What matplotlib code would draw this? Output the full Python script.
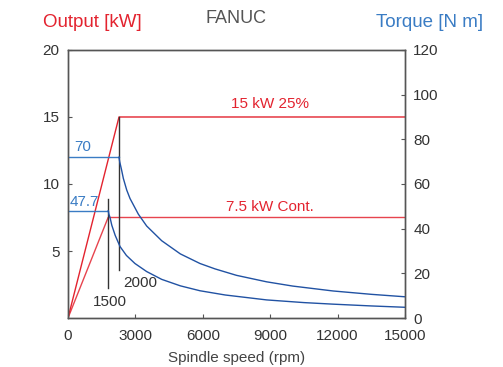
import numpy as np
import matplotlib.pyplot as plt

plt.rcParams['font.family'] = ['Liberation Sans', 'DejaVu Sans']

RED = "#e3232f"
BLUE = "#3a7cc4"
DBLUE = "#2152a3"
GREY = "#333333"

# power curves (kW) vs spindle speed (rpm)
spd_p25 = [0, 2270, 15000]
pow_p25 = [0, 15.0, 15.0]
spd_pc = [0, 1785, 15000]
pow_pc = [0, 7.5, 7.5]

# torque curves (N m)
spd_t25 = [0, 2270, 2300, 2380, 2463, 2613, 2760, 3130, 3500, 4170, 5000,
           5875, 6540, 7500, 8840, 10000, 11800, 13500, 15000]
trq_t25 = [72, 72, 70, 66.5, 62.5, 57.3, 53.5, 46.5, 41.2, 34.6, 28.7,
           24.4, 22.0, 19.1, 16.2, 14.3, 12.1, 10.6, 9.5]
spd_tc = [0, 1790, 1820, 1870, 1950, 2100, 2315, 2600, 2980, 3500, 4170,
          5000, 5875, 7000, 8840, 10500, 11800, 13500, 15000]
trq_tc = [48, 48, 46.5, 45, 41.5, 37, 32, 28, 24.4, 20.8, 17.3,
          14.4, 12.2, 10.3, 8.1, 6.9, 6.2, 5.4, 4.8]

# base-speed markers: (rpm, power from, power to)
markers = [(2270, 15.0, 3.6), (1780, 8.9, 2.25)]

fig = plt.figure(figsize=(5.03, 3.67), dpi=100)
ax = fig.add_axes([0.1352, 0.1335, 0.6700, 0.7303])
ax2 = ax.twinx()

ax.plot(spd_p25, pow_p25, color=RED, lw=1.0)
ax.plot(spd_pc, pow_pc, color=RED, lw=1.0, alpha=0.85)
for x, y0, y1 in markers:
    ax.plot([x, x], [y0, y1], color=GREY, lw=1.0)
ax.text(2270 + 180, 2.6, "2000", fontsize=11, color=GREY, va='center')
ax.text(1780 + 100, 1.2, "1500", fontsize=11, color=GREY, va='center', ha='center')
ax.text(9000, 16.0, "15 kW 25%", fontsize=11, color=RED, ha='center', va='center')
ax.text(9000, 8.3, "7.5 kW Cont.", fontsize=11, color=RED, ha='center', va='center')

# torque: horizontal part lighter, falling part darker
ax2.plot(spd_t25[:2], trq_t25[:2], color=BLUE, lw=1.0)
ax2.plot(spd_t25[1:], trq_t25[1:], color=DBLUE, lw=1.0)
ax2.plot(spd_tc[:2], trq_tc[:2], color=BLUE, lw=1.0)
ax2.plot(spd_tc[1:], trq_tc[1:], color=DBLUE, lw=1.0)
ax2.text(300, 73.5, "70", fontsize=11, color=BLUE, va='bottom')
ax2.text(50, 48.8, "47.7", fontsize=11, color=BLUE, va='bottom')

ax.set_xlim(0, 15000)
ax.set_ylim(0, 20)
ax2.set_ylim(0, 120)
ax.set_xticks([0, 3000, 6000, 9000, 12000, 15000])
ax.set_yticks([5, 10, 15, 20])
ax2.set_yticks([0, 20, 40, 60, 80, 100, 120])

for a in (ax, ax2):
    for s in a.spines.values():
        s.set_color("#555555")
        s.set_linewidth(1.0)
    a.tick_params(direction='in', length=3, width=0.8, colors="#555555",
                  labelcolor=GREY, labelsize=11, pad=6)
ax.tick_params(axis='x', pad=8)

ax.set_xlabel("Spindle speed (rpm)", fontsize=11, color="#444444", labelpad=6)

fig.text(0.086, 0.94, "Output [kW]", color=RED, fontsize=13.5, ha='left', va='center')
fig.text(0.469, 0.95, "FANUC", color="#555555", fontsize=13, ha='center', va='center')
fig.text(0.96, 0.94, "Torque [N m]", color=BLUE, fontsize=13.5, ha='right', va='center')

fig.savefig("out.png", dpi=100)
